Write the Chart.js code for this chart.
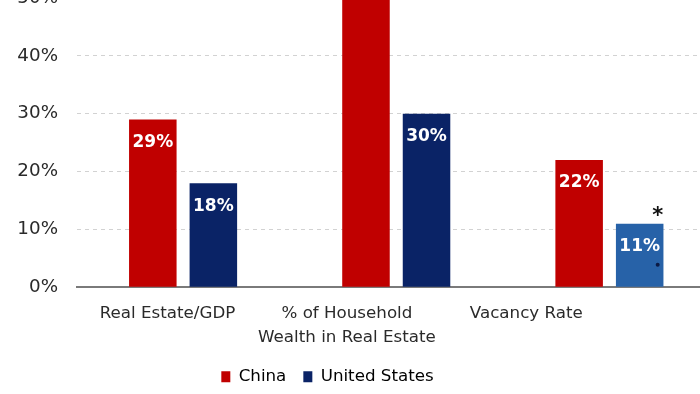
<!DOCTYPE html>
<html>
<head>
<meta charset="utf-8">
<script src="https://cdn.jsdelivr.net/npm/chart.js@4"></script>
<style>
  html, body { margin: 0; padding: 0; background: #fff; overflow: hidden; width: 700px; height: 394px; }
  #wrap { position: absolute; left: -61px; top: -22px; width: 777px; height: 417px; }
</style>
</head>
<body>
<div id="wrap"><canvas id="c" width="777" height="417"></canvas></div>
<script>
const categories = ['Real Estate/GDP', ['% of Household', 'Wealth in Real Estate'], 'Vacancy Rate'];
const chinaValues = [29, 70, 22];
const usValues = [18, 30, 11];
const yTicks = [0, 10, 20, 30, 40, 50];
const seriesNames = ['China', 'United States'];

const RED = '#c00000', NAVY = '#0a2366', BLUE = '#2762a8';
const FONT = 'DejaVu Sans';
// label placement on the secondary axis (in category units)
const LABEL_START = -0.073, LABEL_STEP = 0.8415;

const valueLabels = {
  id: 'valueLabels',
  afterDatasetsDraw(chart) {
    const ctx = chart.ctx;
    ctx.save();
    ctx.font = 'bold 17px "' + FONT + '"';
    ctx.fillStyle = '#ffffff';
    ctx.textAlign = 'center';
    ctx.textBaseline = 'middle';
    chart.data.datasets.forEach((ds, di) => {
      chart.getDatasetMeta(di).data.forEach((el, i) => {
        ctx.fillText(ds.data[i] + '%', el.x, el.y + 23);
      });
    });
    // asterisk markers on US vacancy bar
    const el = chart.getDatasetMeta(1).data[2];
    ctx.fillStyle = '#111';
    ctx.font = 'bold 21px "' + FONT + '"';
    ctx.fillText('*', el.x + 18, el.y - 7);
    ctx.fillStyle = '#0b1a45';
    ctx.beginPath();
    ctx.arc(el.x + 18, el.y + 41, 2, 0, Math.PI * 2);
    ctx.fill();
    ctx.restore();
  }
};

new Chart(document.getElementById('c'), {
  type: 'bar',
  data: {
    labels: categories,
    datasets: [
      { label: seriesNames[0], data: chinaValues, backgroundColor: RED, xAxisID: 'x', yAxisID: 'y' },
      { label: seriesNames[1], data: usValues, backgroundColor: [NAVY, NAVY, BLUE], xAxisID: 'x', yAxisID: 'y' }
    ]
  },
  options: {
    responsive: false,
    animation: false,
    devicePixelRatio: 1,
    layout: { padding: { top: 20, left: 0, right: 0, bottom: 0 } },
    datasets: { bar: { categoryPercentage: 0.568, barPercentage: 0.785 } },
    plugins: {
      tooltip: { enabled: false },
      legend: {
        position: 'bottom',
        labels: {
          font: { family: FONT, size: 16.7 },
          color: '#222',
          boxWidth: 9,
          boxHeight: 11,
          padding: 17,
          generateLabels: (chart) => seriesNames.map((n, i) => ({
            text: n, fillStyle: i === 0 ? RED : NAVY, strokeStyle: 'transparent', lineWidth: 0, datasetIndex: i
          }))
        }
      }
    },
    scales: {
      x: {
        type: 'category',
        offset: true,
        grid: { display: false, drawTicks: false },
        border: { display: true, color: '#7a7a7a', width: 2 },
        ticks: { display: false }
      },
      x2: {
        type: 'linear',
        position: 'bottom',
        offset: false,
        min: -0.5, max: 2.5,
        bounds: 'data',
        grid: { display: false, drawTicks: false, offset: false },
        border: { display: false },
        afterBuildTicks: (s) => { s.ticks = categories.map((c, i) => ({ value: LABEL_START + i * LABEL_STEP })); },
        afterFit: (s) => { s.height = 64; s.paddingLeft = 0; s.paddingRight = 0; },
        ticks: {
          autoSkip: false,
          maxRotation: 0,
          padding: 14,
          color: '#2a2a2a',
          font: { family: FONT, size: 16.7, lineHeight: 1.44 },
          callback: (v, i) => categories[i]
        }
      },
      y: {
        min: 0, max: 50,
        afterBuildTicks: (s) => { s.ticks = yTicks.map(v => ({ value: v })); },
        afterFit: (s) => { s.width = 137.5; s.paddingTop = 0; s.paddingBottom = 0; },
        grid: { color: '#d2d2d2', lineWidth: 1, drawTicks: false },
        border: { display: false, dash: [4, 4] },
        ticks: {
          padding: 18.5,
          color: '#2a2a2a',
          font: { family: FONT, size: 18.3 },
          callback: (v) => v + '%'
        }
      }
    }
  },
  plugins: [valueLabels]
});
</script>
</body>
</html>
